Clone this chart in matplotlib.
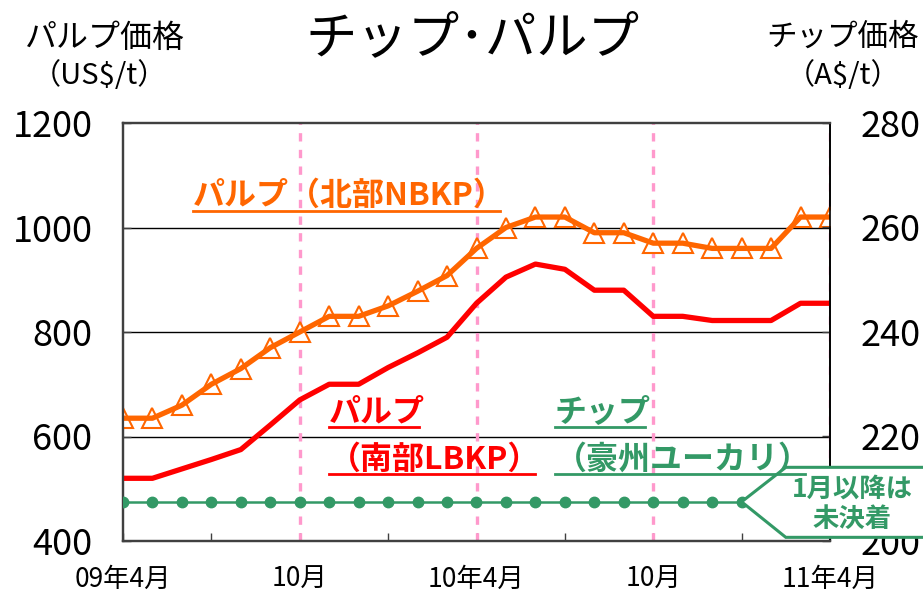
"""Chip / pulp price chart (Apr 2009 - Apr 2011)."""

import matplotlib
matplotlib.use("Agg")
import matplotlib.pyplot as plt
from matplotlib.lines import Line2D
from matplotlib.patches import Polygon
from matplotlib.ticker import MultipleLocator

plt.rcParams["font.family"] = ["Noto Sans CJK JP", "DejaVu Sans"]

# monthly, 09年4月 .. 11年4月
months = list(range(25))
tick_pos = [0, 6, 12, 18, 24]
tick_labels = ["09年4月", "10月", "10年4月", "10月", "11年4月"]

nbkp = [635, 635, 660, 700, 730, 770, 800, 830, 830, 850, 878, 908, 960,
        1000, 1020, 1020, 990, 990, 970, 970, 960, 960, 960, 1020, 1020]
lbkp = [520, 520, 538, 556, 575, 622, 670, 700, 700, 732, 760, 790, 855,
        905, 930, 920, 880, 880, 830, 830, 822, 822, 822, 855, 855]
chip_months = list(range(22))  # 09年4月 .. 11年1月
chip = [207.5] * 22

ORANGE = "#FF6600"
RED = "#FF0000"
GREEN = "#339966"
PINK = "#FF99CC"

fig = plt.figure(figsize=(9.23, 5.98), dpi=100)
ax = fig.add_axes([123 / 923, 57 / 598, 707 / 923, 418 / 598])
ax2 = ax.twinx()

ax.set_xlim(0, 24)
ax.set_ylim(400, 1200)
ax2.set_ylim(200, 280)

for y in [600, 800, 1000]:
    ax.axhline(y, color="black", lw=1.0, zorder=1)
for x in [6, 12, 18, 24]:
    ax.axvline(x, color=PINK, lw=2.4, ls=(0, (2.5, 2.5)), zorder=2)

ax.plot(months, nbkp, ls="none", marker="^", ms=14, mfc="white",
        mec=ORANGE, mew=1.5, zorder=3)
ax.plot(months, nbkp, color=ORANGE, lw=3.8, zorder=4, solid_joinstyle="round")
ax.plot(months, lbkp, color=RED, lw=3.8, zorder=4, solid_joinstyle="round")
ax2.plot(chip_months, chip, color=GREEN, lw=1.8, marker="o", ms=7.5, zorder=4)

ax.set_xticks(tick_pos)
ax.set_xticklabels(tick_labels)
ax.xaxis.set_minor_locator(MultipleLocator(3))
ax.set_yticks([400, 600, 800, 1000, 1200])
ax2.set_yticks([200, 220, 240, 260, 280])

ax.tick_params(axis="x", which="both", direction="in", length=6, width=1,
               color="#404040", labelsize=19, pad=18)
ax.tick_params(axis="y", direction="in", length=6, width=1,
               color="#404040", labelsize=26, pad=22)
ax2.tick_params(axis="y", direction="in", length=6, width=1,
                color="#404040", labelsize=26, pad=22)

for a in (ax, ax2):
    for side in ["left", "bottom", "top"]:
        a.spines[side].set_color("#404040")
        a.spines[side].set_linewidth(1.6)
    a.spines["right"].set_color("black")
    a.spines["right"].set_linewidth(1.2)

# titles
fig.text(0.512, 0.935, "チップ･パルプ", fontsize=37, ha="center", va="center")
fig.text(0.114, 0.937, "パルプ価格", fontsize=23, ha="center", va="center")
fig.text(0.108, 0.873, "（US$/t）", fontsize=21, ha="center", va="center")
fig.text(0.913, 0.937, "チップ価格", fontsize=22, ha="center", va="center")
fig.text(0.913, 0.873, "（A$/t）", fontsize=21, ha="center", va="center")

# series labels (underlined)
labels = [
    (2.37, 1043, "パルプ（北部NBKP）", ORANGE),
    (7.0, 629, "パルプ", RED),
    (7.0, 539, "（南部LBKP）", RED),
    (14.66, 629, "チップ", GREEN),
    (14.66, 539, "（豪州ユーカリ）", GREEN),
]
texts = []
for x, y, s, c in labels:
    t = ax.text(x, y, s, color=c, fontsize=23, fontweight="bold",
                ha="left", va="baseline", zorder=6)
    texts.append((t, c))

fig.canvas.draw()
renderer = fig.canvas.get_renderer()
for t, c in texts:
    bb = t.get_window_extent(renderer)
    yb = ax.transData.transform((0, t.get_position()[1]))[1] - 6
    fig.add_artist(Line2D([bb.x0, bb.x1 - 6], [yb, yb], color=c, lw=2,
                          transform=None))

# callout for chip price
callout = Polygon([(27.5, 214.1), (22.5, 214.1), (21, 207.5),
                   (22.5, 200.7), (27.5, 200.7)], closed=False,
                  facecolor="white", edgecolor=GREEN, lw=2.2,
                  clip_on=False, zorder=10, transform=ax2.transData)
ax2.add_patch(callout)
ax2.text(24.75, 207.0, "1月以降は\n未決着", color=GREEN, fontsize=19,
         fontweight="bold", ha="center", va="center", linespacing=1.15,
         zorder=11, clip_on=False)

fig.savefig("out.png", dpi=100)
